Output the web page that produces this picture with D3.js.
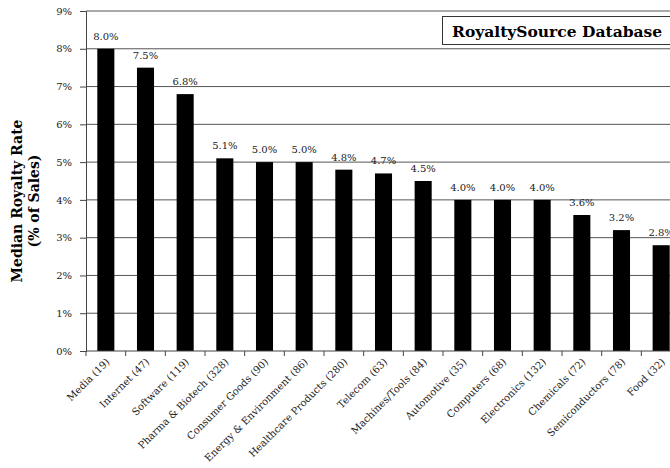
<!DOCTYPE html>
<html><head><meta charset="utf-8">
<script src="https://cdn.jsdelivr.net/npm/d3@7"></script>
<style>body{margin:0;background:#fff}svg{display:block}</style>
</head><body>
<script>
const categories = ["Media (19)","Internet (47)","Software (119)","Pharma & Biotech (328)","Consumer Goods (90)","Energy & Environment (86)","Healthcare Products (280)","Telecom (63)","Machines/Tools (84)","Automotive (35)","Computers (68)","Electronics (132)","Chemicals (72)","Semiconductors (78)","Food (32)"];
const values = [8.0,7.5,6.8,5.1,5.0,5.0,4.8,4.7,4.5,4.0,4.0,4.0,3.6,3.2,2.8];
const valueLabels = ["8.0%","7.5%","6.8%","5.1%","5.0%","5.0%","4.8%","4.7%","4.5%","4.0%","4.0%","4.0%","3.6%","3.2%","2.8%"];
const yTicks = [0,1,2,3,4,5,6,7,8,9];
const title = "RoyaltySource Database";
const yTitle = ["Median Royalty Rate","(% of Sales)"];

const W=670,H=468, font="'DejaVu Serif', 'Liberation Serif', serif";
const svg=d3.select("body").append("svg").attr("width",W).attr("height",H);
const x=d3.scaleBand().domain(categories).range([86,681]).paddingInner(0.57).paddingOuter(0.285);
const y=d3.scaleLinear().domain([0,9]).range([351,11]);

// gridlines
svg.append("g").selectAll("line").data(yTicks.filter(d=>d>0)).join("line")
  .attr("x1",86).attr("x2",W).attr("y1",d=>y(d)).attr("y2",d=>y(d))
  .attr("stroke","#555").attr("stroke-width",1);

// bars
svg.append("g").selectAll("rect").data(values).join("rect")
  .attr("x",(d,i)=>x(categories[i])).attr("width",x.bandwidth())
  .attr("y",d=>y(d)).attr("height",d=>y(0)-y(d)).attr("fill","#000");

// value labels
svg.append("g").selectAll("text").data(values).join("text")
  .attr("x",(d,i)=>x(categories[i])+x.bandwidth()/2).attr("y",d=>y(d)-9)
  .attr("text-anchor","middle").attr("font-family",font).attr("font-size",10)
  .attr("fill","#222").text((d,i)=>valueLabels[i]);

// y axis
const ya=svg.append("g").attr("transform","translate(86,0)")
  .call(d3.axisLeft(y).tickValues(yTicks).tickFormat(d=>d+"%").tickSize(6).tickPadding(8));
ya.select(".domain").attr("stroke","#444");
ya.selectAll(".tick line").attr("stroke","#444");
ya.selectAll("text").attr("font-family",font).attr("font-size",10).attr("fill","#222");

// x axis
const xt=d3.scaleLinear().domain([0,categories.length]).range([86,681]);
const xa=svg.append("g").attr("transform","translate(0,351)");
xa.append("line").attr("x1",86).attr("x2",W).attr("stroke","#444");
xa.selectAll("line.t").data(d3.range(categories.length+1)).join("line").attr("class","t")
  .attr("x1",d=>xt(d)).attr("x2",d=>xt(d)).attr("y1",0).attr("y2",5).attr("stroke","#444");
xa.selectAll("text").data(categories).join("text")
  .attr("transform",d=>`translate(${x(d)+x.bandwidth()/2+2},9) rotate(-45)`)
  .attr("text-anchor","end").attr("dy","0.35em")
  .attr("font-family",font).attr("font-size",10).attr("fill","#222").text(d=>d);

// y title
yTitle.forEach((t,i)=>{
  svg.append("text").attr("transform",`translate(${22+i*17},201) rotate(-90)`)
    .attr("text-anchor","middle").attr("font-family",font).attr("font-size",14)
    .attr("font-weight","bold").text(t);
});

// title box
svg.append("rect").attr("x",442.5).attr("y",16.5).attr("width",240).attr("height",28)
  .attr("fill","#fff").attr("stroke","#333").attr("stroke-width",1);
svg.append("text").attr("x",452).attr("y",37).attr("font-family",font).attr("font-size",15.5)
  .attr("font-weight","bold").text(title);
</script>
</body></html>
